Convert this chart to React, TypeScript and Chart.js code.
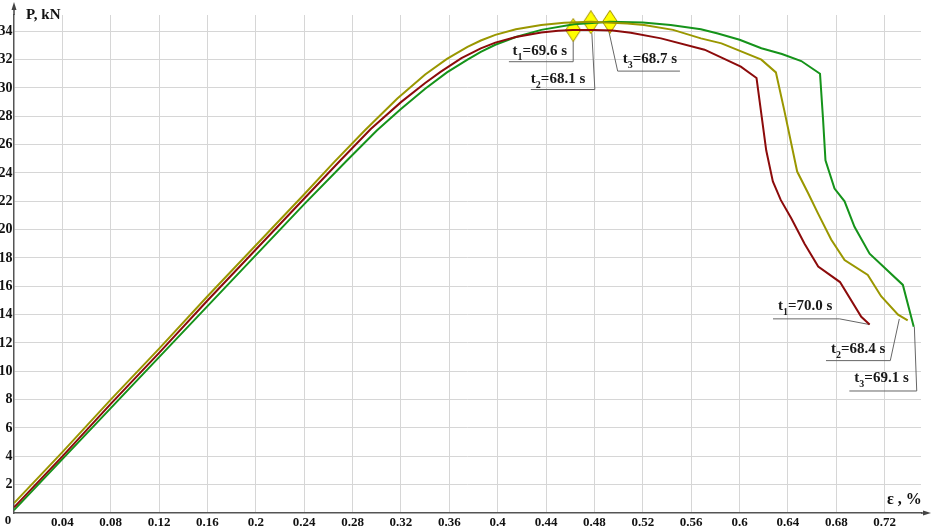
import React, { useEffect, useRef } from "react";
import { Chart, registerables } from "chart.js";

Chart.register(...registerables);

// ---- data ----
const xTickValues = [0.04, 0.08, 0.12, 0.16, 0.2, 0.24, 0.28, 0.32, 0.36, 0.4, 0.44, 0.48, 0.52, 0.56, 0.6, 0.64, 0.68, 0.72];
const yTickValues = [2, 4, 6, 8, 10, 12, 14, 16, 18, 20, 22, 24, 26, 28, 30, 32, 34];

const t1Strain = [0, 0.04, 0.08, 0.12, 0.16, 0.2, 0.24, 0.27, 0.295, 0.32, 0.34, 0.353, 0.37, 0.386, 0.398, 0.415, 0.436, 0.45, 0.462, 0.48, 0.495, 0.51, 0.535, 0.571, 0.601, 0.614, 0.622, 0.6275, 0.634, 0.6427, 0.6537, 0.665, 0.683, 0.7006, 0.7075];
const t1Load = [0.4, 4.0, 7.7, 11.3, 15.0, 18.6, 22.2, 24.9, 27.1, 29.0, 30.35, 31.15, 32.1, 32.8, 33.2, 33.6, 33.92, 34.04, 34.09, 34.1, 34.05, 33.9, 33.5, 32.7, 31.5, 30.7, 25.6, 23.4, 22.1, 20.8, 19.0, 17.4, 16.3, 13.85, 13.3];

const t2Strain = [0, 0.04, 0.08, 0.12, 0.16, 0.2, 0.24, 0.2645, 0.29, 0.317, 0.34, 0.358, 0.375, 0.386, 0.398, 0.415, 0.436, 0.455, 0.477, 0.507, 0.521, 0.545, 0.568, 0.585, 0.618, 0.63, 0.637, 0.6476, 0.6565, 0.6648, 0.6757, 0.6868, 0.706, 0.717, 0.731, 0.739];
const t2Load = [0.7, 4.3, 8.0, 11.6, 15.3, 18.9, 22.5, 24.75, 27.0, 29.25, 30.95, 32.05, 32.9, 33.35, 33.75, 34.15, 34.45, 34.6, 34.67, 34.55, 34.44, 34.1, 33.5, 33.15, 32.0, 31.1, 28.4, 24.1, 22.6, 21.15, 19.3, 17.85, 16.8, 15.3, 14.0, 13.6];

const t3Strain = [0, 0.04, 0.08, 0.12, 0.16, 0.2, 0.24, 0.2755, 0.3, 0.3197, 0.34, 0.358, 0.375, 0.386, 0.398, 0.415, 0.436, 0.463, 0.4928, 0.52, 0.543, 0.568, 0.582, 0.6, 0.618, 0.635, 0.651, 0.6665, 0.669, 0.671, 0.6785, 0.6868, 0.695, 0.7075, 0.735, 0.744];
const t3Load = [0.2, 3.8, 7.4, 11.0, 14.6, 18.2, 21.8, 24.9, 27.0, 28.5, 29.95, 31.1, 32.0, 32.55, 33.05, 33.6, 34.1, 34.5, 34.67, 34.62, 34.44, 34.15, 33.85, 33.4, 32.8, 32.4, 31.9, 31.0, 27.8, 24.9, 22.9, 22.0, 20.2, 18.3, 16.1, 13.15];

const seriesSubs = ["1", "2", "3"];
const peakStrain = [0.4624, 0.477, 0.4928];
const peakLoad = [34.09, 34.64, 34.67];
const peakTimes = ["69.6", "68.1", "68.7"];
const endTimes = ["70.0", "68.4", "69.1"];

const COLORS = ["#8c0b0b", "#9a9700", "#15931a"];
const FONT = '"Liberation Serif", "Times New Roman", serif';

function makeDiamond(): HTMLCanvasElement {
  const c = document.createElement("canvas");
  c.width = 16;
  c.height = 24;
  const g = c.getContext("2d")!;
  g.beginPath();
  g.moveTo(8, 0.5);
  g.lineTo(15.5, 12);
  g.lineTo(8, 23.5);
  g.lineTo(0.5, 12);
  g.closePath();
  g.fillStyle = "#ffff00";
  g.fill();
  g.strokeStyle = "#a08c00";
  g.lineWidth = 1;
  g.stroke();
  return c;
}

function drawT(ctx: CanvasRenderingContext2D, x: number, yBase: number, sub: string, val: string) {
  ctx.fillStyle = "#1a1a1a";
  ctx.textAlign = "left";
  ctx.textBaseline = "alphabetic";
  ctx.font = `bold 15px ${FONT}`;
  ctx.fillText("t", x, yBase);
  let w = ctx.measureText("t").width;
  ctx.font = `bold 10px ${FONT}`;
  ctx.fillText(sub, x + w, yBase + 5);
  w += ctx.measureText(sub).width;
  ctx.font = `bold 15px ${FONT}`;
  ctx.fillText("=" + val + " s", x + w, yBase);
}

// label layout relative to anchor pixel: leader polyline + text origin
const peakLayouts = [
  { path: [[0, 11], [0, 31.7], [-64.3, 31.7]], text: [-60.6, 25] },
  { path: [[1, 11], [4, 67.3], [-60, 67.3]], text: [-60, 60.6] },
  { path: [[-1, 10], [7.7, 49.3], [70, 49.3]], text: [12.7, 41.6] },
];
const endLayouts = [
  { path: [[0, 0], [-30, -5.7], [-96.6, -5.7]], text: [-91.6, -14.7] },
  { path: [[-8.4, -1.4], [-17.4, 40.3], [-81.7, 40.3]], text: [-76.7, 32.6] },
  { path: [[0.6, 0], [3, 64.3], [-64.4, 64.3]], text: [-59.4, 55] },
];

const annotationPlugin = {
  id: "annotations",
  beforeDatasetsDraw(chart: any) {
    const ctx: CanvasRenderingContext2D = chart.ctx;
    const xs = chart.scales.x;
    const ys = chart.scales.y;
    const ends = [
      [t1Strain[t1Strain.length - 1], t1Load[t1Load.length - 1]],
      [t2Strain[t2Strain.length - 1], t2Load[t2Load.length - 1]],
      [t3Strain[t3Strain.length - 1], t3Load[t3Load.length - 1]],
    ];
    ctx.save();
    ctx.strokeStyle = "#666";
    ctx.lineWidth = 1;
    for (let i = 0; i < 3; i++) {
      const mx = xs.getPixelForValue(peakStrain[i]);
      const my = ys.getPixelForValue(peakLoad[i]);
      const L = peakLayouts[i];
      ctx.beginPath();
      L.path.forEach((p, k) => (k === 0 ? ctx.moveTo(mx + p[0], my + p[1]) : ctx.lineTo(mx + p[0], my + p[1])));
      ctx.stroke();
      drawT(ctx, mx + L.text[0], my + L.text[1], seriesSubs[i], peakTimes[i]);

      const ex = xs.getPixelForValue(ends[i][0]);
      const ey = ys.getPixelForValue(ends[i][1]);
      const E = endLayouts[i];
      ctx.beginPath();
      E.path.forEach((p, k) => (k === 0 ? ctx.moveTo(ex + p[0], ey + p[1]) : ctx.lineTo(ex + p[0], ey + p[1])));
      ctx.stroke();
      drawT(ctx, ex + E.text[0], ey + E.text[1], seriesSubs[i], endTimes[i]);
    }
    ctx.restore();
  },
  afterDraw(chart: any) {
    const ctx: CanvasRenderingContext2D = chart.ctx;
    const a = chart.chartArea;
    ctx.save();
    ctx.strokeStyle = "#444";
    ctx.fillStyle = "#444";
    ctx.lineWidth = 1.5;
    // y arrow
    ctx.beginPath();
    ctx.moveTo(a.left, a.top);
    ctx.lineTo(a.left, 8);
    ctx.stroke();
    ctx.beginPath();
    ctx.moveTo(a.left, 2);
    ctx.lineTo(a.left - 2.5, 10);
    ctx.lineTo(a.left + 2.5, 10);
    ctx.closePath();
    ctx.fill();
    // x arrow
    ctx.beginPath();
    ctx.moveTo(a.right, a.bottom);
    ctx.lineTo(a.right + 5, a.bottom);
    ctx.stroke();
    ctx.beginPath();
    ctx.moveTo(a.right + 10, a.bottom);
    ctx.lineTo(a.right + 2, a.bottom - 2.5);
    ctx.lineTo(a.right + 2, a.bottom + 2.5);
    ctx.closePath();
    ctx.fill();
    // titles
    ctx.fillStyle = "#111";
    ctx.textBaseline = "middle";
    ctx.textAlign = "left";
    ctx.font = `bold 15px ${FONT}`;
    ctx.fillText("P, kN", 26, 15);
    ctx.font = `bold 16px ${FONT}`;
    ctx.fillText("ε , %", 887, 500);
    ctx.font = `bold 13px ${FONT}`;
    ctx.textAlign = "center";
    ctx.fillText("0", 8, 521);
    ctx.restore();
  },
};

export default function App() {
  const ref = useRef<HTMLCanvasElement | null>(null);
  useEffect(() => {
    if (!ref.current) return;
    const mk = (xs: number[], ys: number[]) => xs.map((x, i) => ({ x, y: ys[i] }));
    const diamond = makeDiamond();
    const xFont = { family: FONT, size: 13, weight: "bold" as const };
    const yFont = { family: FONT, size: 14, weight: "bold" as const };
    const chart = new Chart(ref.current, {
      type: "line",
      data: {
        datasets: [
          { label: "t1", data: mk(t1Strain, t1Load), borderColor: COLORS[0], borderWidth: 2, pointRadius: 0, tension: 0, fill: false },
          { label: "t2", data: mk(t2Strain, t2Load), borderColor: COLORS[1], borderWidth: 2, pointRadius: 0, tension: 0, fill: false },
          { label: "t3", data: mk(t3Strain, t3Load), borderColor: COLORS[2], borderWidth: 2, pointRadius: 0, tension: 0, fill: false },
          {
            label: "peaks",
            data: mk(peakStrain, peakLoad),
            showLine: false,
            pointStyle: diamond as any,
            pointRadius: 12,
            clip: false as any,
          },
        ],
      },
      options: {
        animation: false,
        responsive: false,
        devicePixelRatio: 1,
        layout: { autoPadding: false, padding: { left: 0, right: 11, top: 15, bottom: 0 } },
        plugins: { legend: { display: false }, tooltip: { enabled: false } },
        scales: {
          x: {
            type: "linear",
            min: 0,
            max: 0.75,
            afterBuildTicks: (s: any) => {
              s.ticks = xTickValues.map((v) => ({ value: v }));
            },
            afterFit: (s: any) => {
              s.height = 15;
            },
            ticks: {
              callback: (v: any) => String(Number(Number(v).toFixed(2))),
              font: xFont,
              color: "#111",
              padding: 2,
              maxRotation: 0,
              autoSkip: false,
            },
            grid: { color: "#d6d6d6", lineWidth: 1, drawTicks: false },
            border: { color: "#555", width: 1.5 },
          },
          y: {
            type: "linear",
            min: 0,
            max: 35.15,
            afterBuildTicks: (s: any) => {
              s.ticks = yTickValues.map((v) => ({ value: v }));
            },
            afterFit: (s: any) => {
              s.width = 14;
            },
            ticks: {
              font: yFont,
              color: "#111",
              padding: 1.5,
              autoSkip: false,
            },
            grid: { color: "#d6d6d6", lineWidth: 1, drawTicks: false },
            border: { color: "#555", width: 1.5 },
          },
        },
      },
      plugins: [annotationPlugin],
    });
    return () => chart.destroy();
  }, []);
  return (
    <div style={{ position: "fixed", left: 0, top: 0, width: 932, height: 528, background: "#fff", overflow: "hidden" }}>
      <canvas ref={ref} width={932} height={528} style={{ display: "block", width: 932, height: 528 }} />
    </div>
  );
}
